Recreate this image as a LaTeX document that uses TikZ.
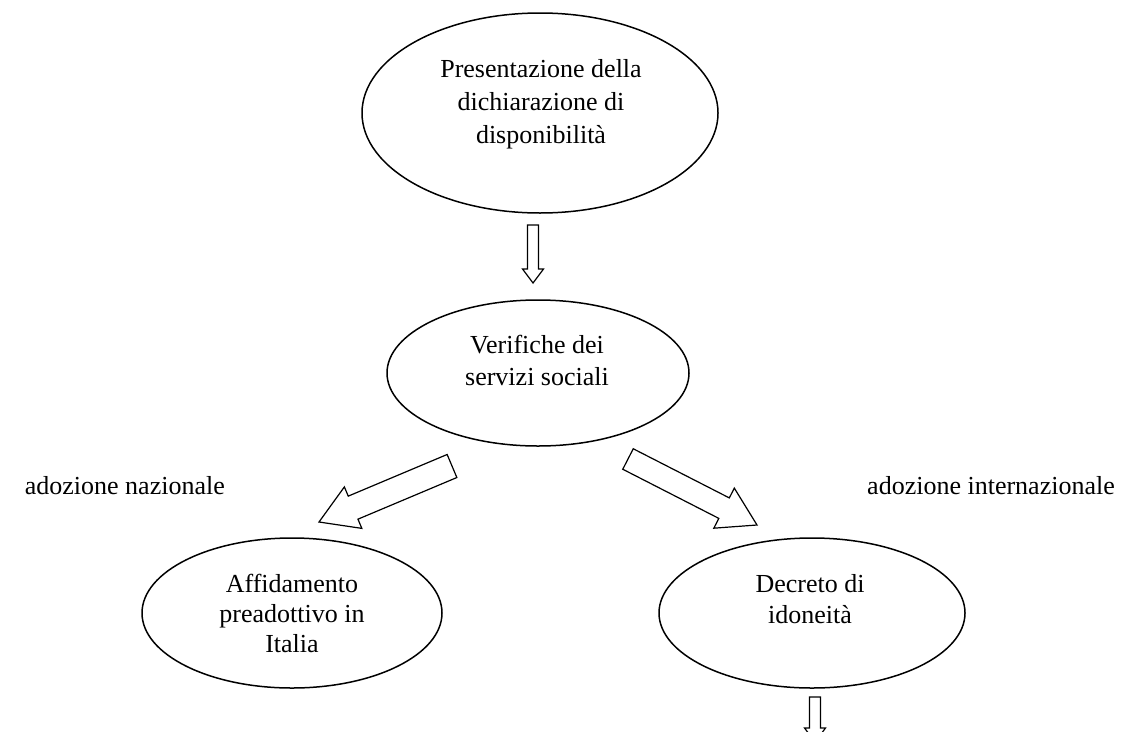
\documentclass[tikz,border=0pt]{standalone}
\usepackage{fontspec}
\setmainfont{Liberation Serif}
\usetikzlibrary{shapes.geometric,calc}
\newcommand\blockarrow[5]{% tail, tip, half shaft, half head, head length
  \coordinate (ba@base) at ($(#2)!#5!(#1)$);
  \draw[blk] ($(#1)!#3!90:(#2)$) -- ($(ba@base)!#3!90:(#2)$) -- ($(ba@base)!#4!90:(#2)$)
    -- (#2) -- ($(ba@base)!#4!-90:(#2)$) -- ($(ba@base)!#3!-90:(#2)$)
    -- ($(#1)!#3!-90:(#2)$) -- cycle;}
\begin{document}
\begin{tikzpicture}[x=1pt,y=-1pt,
  oval/.style={draw,ellipse,line width=1.5pt,inner sep=0pt},
  txt/.style={align=center,inner sep=0pt},
  lbl/.style={inner sep=0pt,font=\fontsize{26}{32}\selectfont},
  blk/.style={draw,line width=1.2pt,line join=miter,fill=white}]
\useasboundingbox (0,0) rectangle (1139,731);
\clip (0,0) rectangle (1139,731);
\fill[white] (0,0) rectangle (1139,731);

% ellipses
\node[oval,minimum width=356pt,minimum height=200pt] (top) at (540,113) {};
\node[oval,minimum width=302pt,minimum height=146pt] (mid) at (538,373) {};
\node[oval,minimum width=300pt,minimum height=150pt] (lft) at (292,613) {};
\node[oval,minimum width=306pt,minimum height=150pt] (rgt) at (812,613) {};

% texts
\node[txt,font=\fontsize{26}{33}\selectfont] (ttop) at (541,104) {Presentazione della\\dichiarazione di\\disponibilità};
\node[txt,font=\fontsize{26}{32}\selectfont] (tmid) at (537,360) {Verifiche dei\\servizi sociali};
\node[txt,font=\fontsize{26}{30}\selectfont] (tlft) at (292,613) {Affidamento\\preadottivo in\\Italia};
\node[txt,font=\fontsize{26}{31}\selectfont] (trgt) at (810,599) {Decreto di\\idoneità};

% labels
\node[lbl,anchor=base east] (lnaz) at (225,494) {adozione nazionale};
\node[lbl,anchor=base west] (lint) at (867,494) {adozione internazionale};

% arrow end points
\coordinate (a1t) at (533,225);
\coordinate (a1p) at (533,283);
\coordinate (a2t) at (452,466);
\coordinate (a2p) at (319,522);
\coordinate (a3t) at (628,459);
\coordinate (a3p) at (757,525);
\coordinate (a4t) at (815,697);
\coordinate (a4p) at (815,742);

\blockarrow{a1t}{a1p}{5.5pt}{10.5pt}{14pt}
\blockarrow{a2t}{a2p}{12.5pt}{22.5pt}{37pt}
\blockarrow{a3t}{a3p}{11.5pt}{22.5pt}{37pt}
\blockarrow{a4t}{a4p}{5.5pt}{10.5pt}{14pt}
\end{tikzpicture}
\end{document}
